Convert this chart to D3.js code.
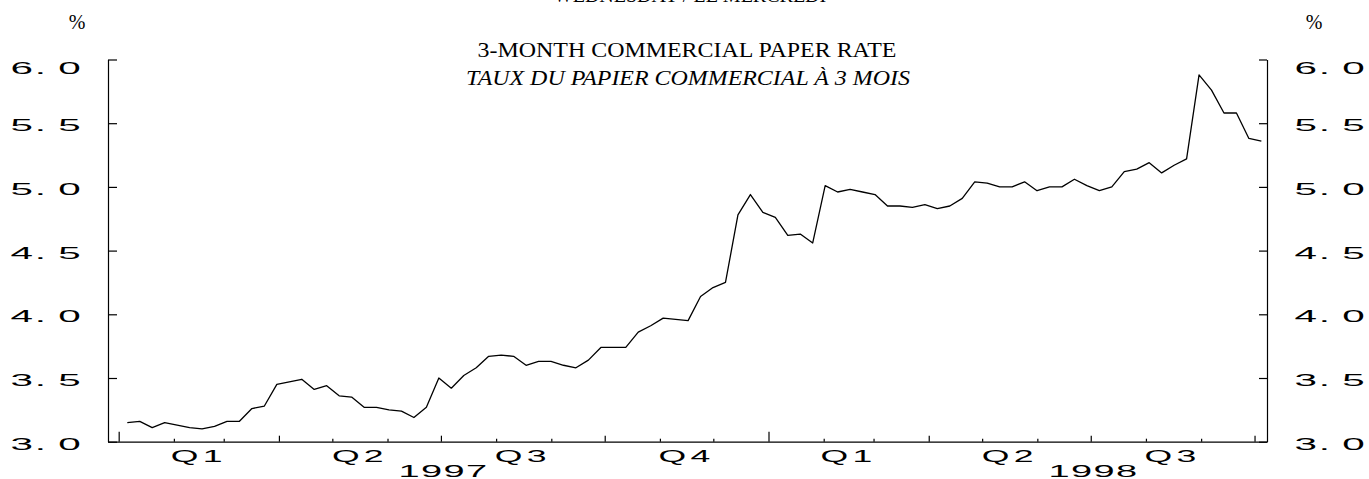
<!DOCTYPE html>
<html>
<head>
<meta charset="utf-8">
<script src="https://cdn.jsdelivr.net/npm/d3@7/dist/d3.min.js"></script>
<style>
  html, body { margin: 0; padding: 0; background: #fff; }
  svg { display: block; }
</style>
</head>
<body>
<svg id="chart" width="1369" height="479"></svg>
<script>
// ---- data ----
const titleTop = "WEDNESDAY / LE MERCREDI";
const titleEn = "3-MONTH COMMERCIAL PAPER RATE";
const titleFr = "TAUX DU PAPIER COMMERCIAL À 3 MOIS";
const unitLabel = "%";
const firstWeek = new Date(1997, 0, 5, 20); // first weekly observation
const rates = [
  3.15, 3.16, 3.11, 3.15, 3.13, 3.11, 3.10, 3.12, 3.16, 3.16,
  3.26, 3.28, 3.45, 3.47, 3.49, 3.41, 3.44, 3.36, 3.35, 3.27,
  3.27, 3.25, 3.24, 3.19, 3.27, 3.50, 3.42, 3.52, 3.58, 3.67,
  3.68, 3.67, 3.60, 3.63, 3.63, 3.60, 3.58, 3.64, 3.74, 3.74,
  3.74, 3.86, 3.91, 3.97, 3.96, 3.95, 4.14, 4.21, 4.25, 4.78,
  4.94, 4.80, 4.76, 4.62, 4.63, 4.56, 5.01, 4.96, 4.98, 4.96,
  4.94, 4.85, 4.85, 4.84, 4.86, 4.83, 4.85, 4.91, 5.04, 5.03,
  5.00, 5.00, 5.04, 4.97, 5.00, 5.00, 5.06, 5.01, 4.97, 5.00,
  5.12, 5.14, 5.19, 5.11, 5.17, 5.22, 5.88, 5.76, 5.58, 5.58,
  5.38, 5.36
];
const yTicks = [3.0, 3.5, 4.0, 4.5, 5.0, 5.5, 6.0];
const quarterLabels = ["Q1", "Q2", "Q3", "Q4"];
const years = [1997, 1998];

const dates = rates.map((_, i) => d3.timeDay.offset(firstWeek, 7 * i));
const series = rates.map((v, i) => ({ date: dates[i], value: v }));

// ---- layout ----
const svg = d3.select("#chart");
const plotL = 108, plotR = 1267, plotT = 59.5, plotB = 441.7;
const x = d3.scaleTime()
  .domain([new Date(1996, 11, 26), new Date(1998, 9, 8)])
  .range([plotL, plotR]);
const y = d3.scaleLinear().domain([3, 6]).range([plotB, plotT]);

const wideFont = "'Liberation Sans', Arial, sans-serif";
const serifFont = "'Liberation Serif', 'Times New Roman', serif";
const sx = 2.45;

// ---- titles ----
svg.append("text").attr("x", 690).attr("y", 2)
  .attr("text-anchor", "middle")
  .style("font-family", serifFont)
  .style("font-size", "20px").text(titleTop);
svg.append("text").attr("transform", "translate(687,56.5) scale(1.14,1)")
  .attr("text-anchor", "middle")
  .style("font-family", serifFont)
  .style("font-size", "21px").text(titleEn);
svg.append("text").attr("transform", "translate(688,85) scale(1.14,1)")
  .attr("text-anchor", "middle")
  .style("font-family", serifFont)
  .style("font-style", "italic")
  .style("font-size", "21px").text(titleFr);

[77, 1314].forEach(cx => {
  svg.append("text").attr("x", cx).attr("y", 28.5)
    .attr("text-anchor", "middle")
    .style("font-family", serifFont)
    .style("font-size", "20px").text(unitLabel);
});

// ---- axes ----
const axisStyle = g => {
  g.selectAll("path, line").attr("stroke", "#000").attr("stroke-width", 1.2);
  g.selectAll("text").remove();
};

svg.append("g").attr("transform", `translate(${plotL},0)`)
  .call(d3.axisRight(y).tickValues(yTicks).tickSizeInner(9).tickSizeOuter(0).tickFormat(""))
  .call(axisStyle);
svg.append("g").attr("transform", `translate(${plotR},0)`)
  .call(d3.axisLeft(y).tickValues(yTicks).tickSizeInner(8).tickSizeOuter(0).tickFormat(""))
  .call(axisStyle);

const months = d3.timeMonth.range(x.domain()[0], x.domain()[1]);
const tickLen = d => d.getMonth() === 0 ? 10 : (d.getMonth() % 3 === 0 ? 6 : 3);
const xg = svg.append("g").attr("transform", `translate(0,${plotB})`)
  .call(d3.axisBottom(x).tickValues(months).tickSizeInner(0).tickSizeOuter(0).tickFormat(""))
  .call(axisStyle);
xg.selectAll(".tick line").attr("y2", d => -tickLen(d));

// ---- wide y labels ----
function yLabel(xpos, v) {
  const s = v.toFixed(1);
  const base = Math.max(y(v) + 8, 74);
  const t = svg.append("text")
    .attr("transform", `translate(${xpos},${base}) scale(${sx},1)`)
    .style("font-family", wideFont).style("font-size", "16.5px");
  t.append("tspan").text(s[0]);
  t.append("tspan").attr("dx", 0.8).text(".");
  t.append("tspan").attr("dx", 5.0).text(s[2]);
}
yTicks.forEach(v => { yLabel(10.4, v); yLabel(1294.4, v); });

// ---- quarter and year labels ----
const quarters = d3.timeMonth.every(3).range(new Date(1997, 0, 1), new Date(1998, 9, 1));
quarters.forEach(q => {
  const q2 = d3.timeMonth.offset(q, 3);
  const cx = (x(q) + x(q2)) / 2;
  svg.append("text")
    .attr("transform", `translate(${cx},461.5) scale(${sx * 0.88},1)`)
    .attr("text-anchor", "middle")
    .style("font-family", wideFont).style("font-size", "16.5px")
    .style("letter-spacing", "2px")
    .text(quarterLabels[Math.floor(q.getMonth() / 3)]);
});
years.forEach(yr => {
  const cx = (x(new Date(yr, 0, 1)) + x(new Date(yr + 1, 0, 1))) / 2;
  svg.append("text")
    .attr("transform", `translate(${cx},476.5) scale(${sx * 0.94},1)`)
    .attr("text-anchor", "middle")
    .style("font-family", wideFont).style("font-size", "16.5px")
    .style("letter-spacing", "0.6px")
    .text(yr);
});

// ---- line ----
svg.append("path").datum(series)
  .attr("fill", "none").attr("stroke", "#000").attr("stroke-width", 1.3)
  .attr("stroke-linejoin", "round")
  .attr("d", d3.line().x(d => x(d.date)).y(d => y(d.value)));
</script>
</body>
</html>
